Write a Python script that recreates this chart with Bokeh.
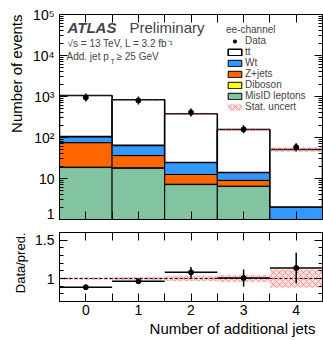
import numpy as np
from bokeh.plotting import figure
from bokeh.layouts import column
from bokeh.models import (ColumnDataSource, Legend, LegendItem, Label, Span, LinearAxis,
                          LogAxis, FixedTicker, LogTicker, Range1d, CustomJSTickFormatter,
                          Title)
from bokeh.embed import file_html
from bokeh.resources import INLINE

FONT = "Liberation Sans"

# ---- data ----
njets = [0, 1, 2, 3, 4]
bin_lo = [-0.5, 0.5, 1.5, 2.5, 3.5]
bin_hi = [0.5, 1.5, 2.5, 3.5, 4.5]
misid = [18.5, 18.0, 7.1, 6.4, 0.0]
diboson = [0.4, 0.3, 0.15, 0.1, 0.05]
zjets = [56.0, 18.0, 5.3, 2.5, 0.0]
wt = [30.0, 28.0, 12.0, 5.0, 1.95]
ttbar = [955.0, 766.0, 355.0, 143.0, 49.0]
data = [940.0, 800.0, 410.0, 158.0, 58.0]
ratio_err = [0.02, 0.03, 0.07, 0.11, 0.20]
stat_unc = [0.015, 0.02, 0.035, 0.05, 0.12]
log_labels = {1: "1", 10: "10", 100: "10²", 1000: "10³", 10000: "10⁴", 100000: "10⁵"}

layers = [("MisID leptons", misid, "#82c4a2"),
          ("Diboson", diboson, "#ffff00"),
          ("Z+jets", zjets, "#ff6600"),
          ("Wt", wt, "#3399ff"),
          ("tt", ttbar, "#ffffff")]

total = np.sum([np.array(v) for _, v, _ in layers], axis=0)
data_a = np.array(data)
ratio = data_a / total
rerr = np.array(ratio_err)
sunc = np.array(stat_unc)

HATCH = dict(hatch_pattern="diagonal_cross", hatch_color="#e83a3a", hatch_alpha=0.55,
             hatch_scale=6, hatch_weight=0.8, fill_color="#f07070", fill_alpha=0.22)


def style_axis(ax, tick_in=8, minor_in=4, labels=True, size="14px"):
    ax.axis_line_color = "black"
    ax.major_tick_line_color = "black"
    ax.minor_tick_line_color = "black"
    ax.major_tick_in = tick_in
    ax.major_tick_out = 0
    ax.minor_tick_in = minor_in
    ax.minor_tick_out = 0
    ax.major_label_text_font = FONT
    ax.major_label_text_color = "black"
    ax.major_label_text_font_size = size
    if labels:
        ax.major_label_standoff = 5
    else:
        ax.formatter = CustomJSTickFormatter(code="return '';")
        ax.major_label_standoff = 0


def side_title(text, size, standoff=0, offset=0):
    return Title(text=text, align="right", text_font=FONT, text_font_size=size,
                 text_font_style="normal", text_color="black", standoff=standoff,
                 offset=offset)


# ---- top panel ----
top = figure(width=323, height=221, y_axis_type="log",
             x_range=Range1d(-0.5, 4.5), y_range=Range1d(1, 1e5),
             output_backend="svg", toolbar_location=None,
             min_border_left=58, min_border_right=1, min_border_top=14, min_border_bottom=2)
top.grid.visible = False
top.outline_line_color = "black"
top.background_fill_color = "white"

xticker = FixedTicker(ticks=njets, minor_ticks=[-0.5, 0.5, 1.5, 2.5, 3.5, 4.5])
top.xaxis.ticker = xticker
style_axis(top.xaxis[0], tick_in=8, minor_in=8, labels=False)
top.yaxis.ticker = LogTicker(num_minor_ticks=10)
top.yaxis.major_label_overrides = log_labels
style_axis(top.yaxis[0], tick_in=8, minor_in=4)

ax_above = LinearAxis(ticker=xticker)
style_axis(ax_above, tick_in=8, minor_in=8, labels=False)
top.add_layout(ax_above, "above")
ax_right = LogAxis(ticker=LogTicker(num_minor_ticks=10))
style_axis(ax_right, tick_in=8, minor_in=4, labels=False)
top.add_layout(ax_right, "right")
top.add_layout(side_title("Number of events", "15px", standoff=10), "left")

base = np.full(5, 1e-2)
renderers = {}
for name, vals, color in layers:
    upper = base + np.array(vals)
    src = ColumnDataSource(dict(left=bin_lo, right=bin_hi, bottom=base, top=upper))
    lw = 1.6 if name == "tt" else 1.0
    renderers[name] = top.quad(left="left", right="right", bottom="bottom", top="top",
                               source=src, fill_color=color, line_color="black",
                               line_width=lw)
    base = upper

band_src = ColumnDataSource(dict(left=bin_lo, right=bin_hi,
                                 bottom=total * (1 - sunc), top=total * (1 + sunc)))
band = top.quad(left="left", right="right", bottom="bottom", top="top", source=band_src,
                line_color=None, **HATCH)

derr = rerr * total
top.segment(x0=njets, y0=data_a - derr, x1=njets, y1=data_a + derr,
            line_color="black", line_width=1.5)
dash = top.scatter(x=njets, y=data, marker="dash", angle=np.pi / 2, size=8,
                   line_color="black", line_width=1.5)
pts = top.scatter(x=njets, y=data, marker="circle", size=5,
                  fill_color="black", line_color="black")

items = [LegendItem(label="Data", renderers=[dash, pts])]
items.append(LegendItem(label="tt", renderers=[renderers["tt"]]))
items.append(LegendItem(label="Wt", renderers=[renderers["Wt"]]))
items.append(LegendItem(label="Z+jets", renderers=[renderers["Z+jets"]]))
items.append(LegendItem(label="Diboson", renderers=[renderers["Diboson"]]))
items.append(LegendItem(label="MisID leptons", renderers=[renderers["MisID leptons"]]))
items.append(LegendItem(label="Stat. uncert", renderers=[band]))
legend = Legend(items=items, location=(167, 107), title="ee-channel",
                title_text_font=FONT, title_text_font_size="10px",
                title_text_font_style="normal", title_standoff=0,
                label_text_font=FONT, label_text_font_size="10px",
                glyph_width=17, glyph_height=8, label_standoff=2, label_height=11,
                padding=0, margin=0, spacing=0,
                border_line_color=None, background_fill_alpha=0)
top.add_layout(legend)

top.add_layout(Label(x=8, y=184, x_units="screen", y_units="screen", text="ATLAS",
                     text_font=FONT, text_font_size="15px", text_font_style="bold italic"))
top.add_layout(Label(x=70, y=184, x_units="screen", y_units="screen", text="Preliminary",
                     text_font=FONT, text_font_size="15px"))
top.add_layout(Label(x=8, y=171, x_units="screen", y_units="screen",
                     text="√s = 13 TeV, L = 3.2 fb⁻¹", text_font=FONT, text_font_size="10px"))
top.add_layout(Label(x=7, y=158, x_units="screen", y_units="screen", text="Add. jet p",
                     text_font=FONT, text_font_size="10px"))
top.add_layout(Label(x=51, y=155, x_units="screen", y_units="screen", text="T",
                     text_font=FONT, text_font_size="7px"))
top.add_layout(Label(x=57, y=158, x_units="screen", y_units="screen", text="≥ 25 GeV",
                     text_font=FONT, text_font_size="10px"))

# ---- ratio panel ----
rat = figure(width=323, height=119, x_range=top.x_range, y_range=Range1d(0.7, 1.6),
             output_backend="svg", toolbar_location=None,
             min_border_left=58, min_border_right=1, min_border_top=11, min_border_bottom=39)
rat.grid.visible = False
rat.outline_line_color = "black"
rat.xaxis.ticker = xticker
style_axis(rat.xaxis[0], tick_in=8, minor_in=8)
rat.xaxis.major_label_standoff = 3
rat.yaxis.ticker = FixedTicker(ticks=[1.0, 1.5],
                               minor_ticks=[0.7, 0.8, 0.9, 1.1, 1.2, 1.3, 1.4, 1.6])
rat.yaxis.major_label_overrides = {1: "1", 1.5: "1.5"}
style_axis(rat.yaxis[0], tick_in=8, minor_in=4)

r_above = LinearAxis(ticker=xticker)
style_axis(r_above, tick_in=8, minor_in=8, labels=False)
rat.add_layout(r_above, "above")
r_right = LinearAxis(ticker=FixedTicker(ticks=[1.0, 1.5],
                                        minor_ticks=[0.7, 0.8, 0.9, 1.1, 1.2, 1.3, 1.4, 1.6]))
style_axis(r_right, tick_in=8, minor_in=4, labels=False)
rat.add_layout(r_right, "right")
rat.add_layout(side_title("Data/pred.", "13px", standoff=10), "left")
rat.add_layout(side_title("Number of additional jets", "15px", standoff=0, offset=7), "below")

rband_src = ColumnDataSource(dict(left=bin_lo, right=bin_hi, bottom=1 - sunc, top=1 + sunc))
rat.quad(left="left", right="right", bottom="bottom", top="top", source=rband_src,
         line_color=None, **HATCH)
rat.add_layout(Span(location=1.0, dimension="width", line_color="black",
                    line_dash="3 2", line_width=1))
rat.segment(x0=bin_lo, y0=ratio, x1=bin_hi, y1=ratio, line_color="black", line_width=1.5)
rat.segment(x0=njets, y0=ratio - rerr, x1=njets, y1=ratio + rerr,
            line_color="black", line_width=1.5)
rat.scatter(x=njets, y=ratio, marker="circle", size=5, fill_color="black", line_color="black")

layout = column(top, rat, spacing=0)
open("out.html", "w").write(file_html(layout, INLINE))
